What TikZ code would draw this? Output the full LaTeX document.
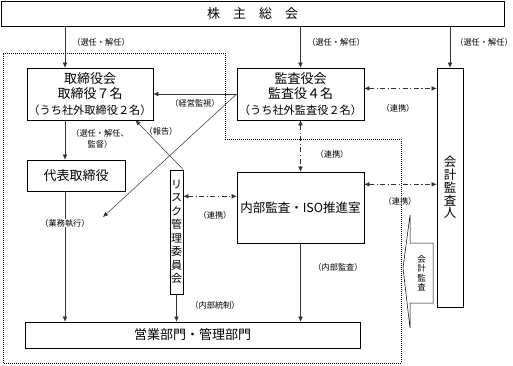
\documentclass[tikz,border=0pt]{standalone}
\usepackage{fontspec}
\setmainfont{Noto Sans CJK JP}
\usetikzlibrary{arrows.meta}

\begin{document}
\begin{tikzpicture}[x=1pt,y=-1pt,
  box/.style={draw,line width=0.6pt,inner sep=0pt,align=center,font=\fontsize{13}{15.5}\selectfont},
  lbl/.style={inner sep=0.5pt,align=center,font=\fontsize{8.2}{11.5}\selectfont},
  link/.style={<->,dash pattern=on 5pt off 2.5pt on 1.2pt off 2.5pt},
  >={Latex[length=5pt,width=4.5pt]}]
\useasboundingbox (0,0) rectangle (513,365);

\draw[dash pattern=on 1pt off 1pt,line width=0.6pt] (3,53) -- (225,53) -- (225,139) -- (401,139) -- (401,363) -- (3,363) -- cycle;

\node[box,minimum width=503pt,minimum height=25pt] (A1) at (252.5,13.5) {株　主　総　会};

\node[box,minimum width=126pt,minimum height=52pt] (B1) at (90,94) {取締役会\\取締役７名\\{\fontsize{11.2}{15.5}\selectfont （うち社外取締役２名）}};
\node[box,minimum width=127pt,minimum height=52pt] (B2) at (300.5,94) {監査役会\\監査役４名\\{\fontsize{11.2}{15.5}\selectfont （うち社外監査役２名）}};
\node[box,minimum width=26pt,minimum height=239pt,font=\fontsize{12.5}{12.8}\selectfont] (B3) at (450,187.5) {会\\計\\監\\査\\人};

\node[box,minimum width=98pt,minimum height=31pt] (C1) at (76,175.5) {代表取締役};
\node[box,minimum width=13pt,minimum height=124pt,font=\fontsize{11}{13.5}\selectfont] (C2) at (176.5,232) {リ\\ス\\ク\\管\\理\\委\\員\\会};
\node[box,minimum width=127pt,minimum height=71pt,font=\fontsize{12.5}{15.5}\selectfont] (C3) at (300.5,207.5) {内部監査・ISO推進室};

\node[box,minimum width=335pt,minimum height=26pt] (D1) at (192.5,335) {営業部門・管理部門};

\draw[line width=0.5pt] (403,268) -- (410,215) -- (410,243) -- (433,243) -- (433,303) -- (410,303) -- (410,328) -- cycle;
\node[font=\fontsize{8.5}{9.5}\selectfont,align=center,inner sep=0pt] (K1) at (421.5,273) {会\\計\\監\\査};

\coordinate (X1) at (65,0);
\coordinate (E1) at (103,217);

\path[->,line width=0.5pt,black!80] (A1.south -| X1) edge [] node[]{} (B1.north -| X1);
\path[->,line width=0.5pt,black!80] (A1.south -| B2) edge [] node[]{} (B2.north);
\path[->,line width=0.5pt,black!80] (A1.south -| B3) edge [] node[]{} (B3.north);

\path[->,line width=0.5pt,black!80] (B1.south -| X1) edge [] node[]{} (C1.north -| X1);
\path[->,line width=0.5pt,black!80] (C1.south -| X1) edge [] node[]{} (D1.north -| X1);
\path[->,line width=0.5pt,black!80] (C2.south) edge [] node[]{} (D1.north -| C2);
\path[->,line width=0.5pt,black!80] (C3.south) edge [] node[]{} (D1.north -| C3);

\path[->,line width=0.5pt,black!80] (B2.west) edge [] node[]{} (B1.east);
\path[->,line width=0.5pt,black!80] (B2.west) edge [] node[]{} (E1);
\path[->,line width=0.5pt,black!80] (C2.north east) edge [] node[]{} (B1.330);

\path[link,line width=0.5pt,black!80] (B2.5) edge [] node[]{} (B3.west |- B2.5);
\path[link,line width=0.5pt,black!80] (B2.south) edge [] node[]{} (C3.north);
\path[link,line width=0.5pt,black!80] (C3.20) edge [] node[]{} (B3.west |- C3.20);
\path[link,line width=0.5pt,black!80] (C2.east |- C3.170) edge [] node[]{} (C3.170);

\node[lbl] (L1) at (101,42) {（選任・解任）};
\node[lbl] (L2) at (336,42) {（選任・解任）};
\node[lbl] (L3) at (484,42) {（選任・解任）};
\node[lbl] (L4) at (100,139) {（選任・解任、\\監督）};
\node[lbl] (L5) at (195,103) {（経営監視）};
\node[lbl] (L6) at (161,131) {（報告）};
\node[lbl,fill=white] (L7) at (65,223) {（業務執行）};
\node[lbl] (L8) at (398,108) {（連携）};
\node[lbl] (L9) at (332,154) {（連携）};
\node[lbl] (L10) at (215,215) {（連携）};
\node[lbl,fill=white] (L11) at (400,201) {（連携）};
\node[lbl] (L12) at (215,305) {（内部統制）};
\node[lbl] (L13) at (338,267) {（内部監査）};
\end{tikzpicture}
\end{document}
